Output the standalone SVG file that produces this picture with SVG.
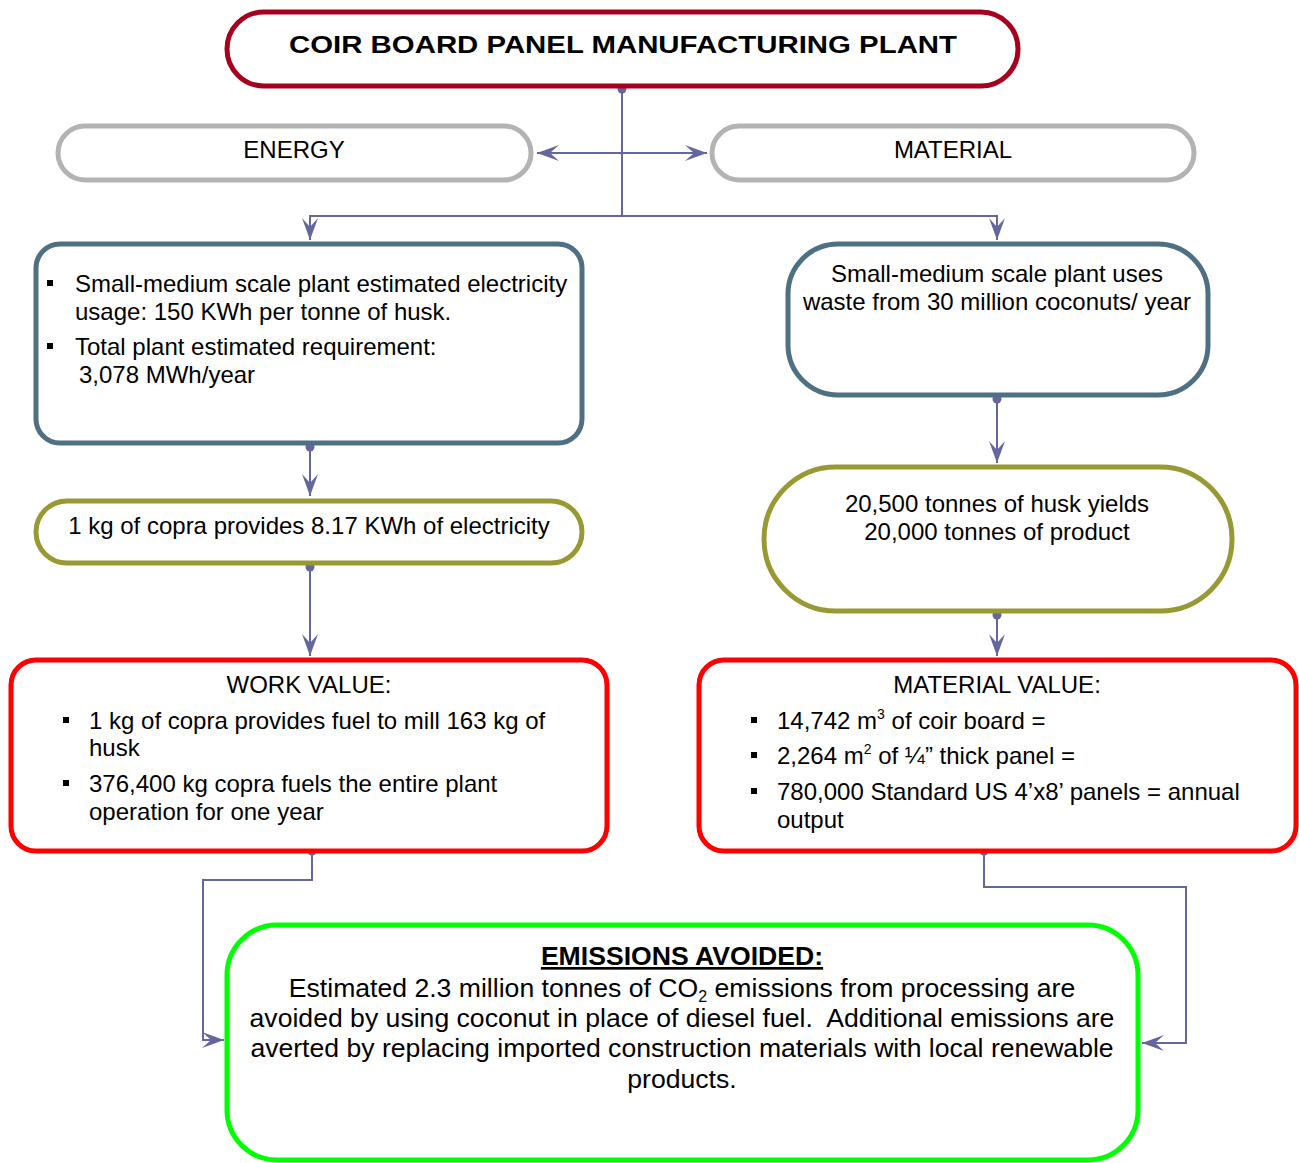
<svg xmlns="http://www.w3.org/2000/svg" width="1299" height="1163" viewBox="0 0 1299 1163">
  <style>
    .box { fill: #ffffff; stroke-width: 5; }
    .title { stroke: #A6001F; }
    .cat { stroke: #B3B3B3; }
    .slate { stroke: #4F7083; }
    .olive { stroke: #999933; }
    .red { stroke: #FF0000; }
    .green { stroke: #00FF00; }
    text { font-family: "Liberation Sans", Arial, sans-serif; fill: #000000; font-size: 24px; }
    .c { text-anchor: middle; }
    .big { font-size: 26.6px; }
    .b { font-weight: bold; }
    .sq { fill: #000000; }
    .wire { fill: none; stroke: #66669E; stroke-width: 2; }
    .dot { fill: #66669E; }
  </style>
  <defs>
    <marker id="arr" markerUnits="userSpaceOnUse" markerWidth="24" markerHeight="18" refX="22" refY="9" orient="auto-start-reverse" viewBox="0 0 24 18">
      <path d="M22,9 L0,1 L9,9 L0,17 Z" fill="#66669E"/>
    </marker>
  </defs>

  <!-- connectors -->
  <g id="connectors">
    <path class="wire" d="M622,90 V216"/>
    <path class="wire" d="M537,153 H707" marker-start="url(#arr)" marker-end="url(#arr)"/>
    <path class="wire" d="M622,216 H310 V240" marker-end="url(#arr)"/>
    <path class="wire" d="M622,216 H997 V240" marker-end="url(#arr)"/>
    <path class="wire" d="M310,447 V496" marker-end="url(#arr)"/>
    <path class="wire" d="M310,567 V656" marker-end="url(#arr)"/>
    <path class="wire" d="M997,399 V463" marker-end="url(#arr)"/>
    <path class="wire" d="M997,615 V656" marker-end="url(#arr)"/>
    <path class="wire" d="M312,851 V880 H203 V1040 H224" marker-end="url(#arr)"/>
    <path class="wire" d="M984,851 V887 H1186 V1043 H1142" marker-end="url(#arr)"/>
    <circle class="dot" cx="622" cy="89" r="4.5"/>
    <circle class="dot" cx="310" cy="447" r="4.5"/>
    <circle class="dot" cx="310" cy="567" r="4.5"/>
    <circle class="dot" cx="997" cy="399" r="4.5"/>
    <circle class="dot" cx="997" cy="615" r="4.5"/>
    <circle class="dot" cx="312" cy="851" r="4.5"/>
    <circle class="dot" cx="984" cy="851" r="4.5"/>
  </g>

  <!-- plant title -->
  <g id="plant">
    <rect class="box title" x="227" y="12" width="791" height="74" rx="37"/>
    <text class="c b" x="623" y="53" font-size="30.5" textLength="668" lengthAdjust="spacingAndGlyphs">COIR BOARD PANEL MANUFACTURING PLANT</text>
  </g>

  <g id="energy">
    <rect class="box cat" x="58" y="126" width="473" height="54" rx="27"/>
    <text class="c" x="294" y="158">ENERGY</text>
  </g>

  <g id="material">
    <rect class="box cat" x="712" y="126" width="482" height="54" rx="27"/>
    <text class="c" x="953" y="158">MATERIAL</text>
  </g>

  <g id="electricity-usage">
    <rect class="box slate" x="36" y="244" width="546" height="199" rx="24"/>
    <rect class="sq" x="47" y="280" width="6" height="6"/>
    <text x="75" y="292">Small-medium scale plant estimated electricity</text>
    <text x="75" y="320">usage: 150 KWh per tonne of husk.</text>
    <rect class="sq" x="47" y="343" width="6" height="6"/>
    <text x="75" y="355">Total plant estimated requirement:</text>
    <text x="79" y="383">3,078 MWh/year</text>
  </g>

  <g id="coconut-supply">
    <rect class="box slate" x="788" y="244" width="420" height="151" rx="50"/>
    <text class="c" x="997" y="282">Small-medium scale plant uses</text>
    <text class="c" x="997" y="310">waste from 30 million coconuts/ year</text>
  </g>

  <g id="copra-energy">
    <rect class="box olive" x="36" y="501" width="546" height="62" rx="31"/>
    <text class="c" x="309" y="534">1 kg of copra provides 8.17 KWh of electricity</text>
  </g>

  <g id="husk-yield">
    <rect class="box olive" x="764" y="467" width="468" height="144" rx="72"/>
    <text class="c" x="997" y="512">20,500 tonnes of husk yields</text>
    <text class="c" x="997" y="540">20,000 tonnes of product</text>
  </g>

  <g id="work-value">
    <rect class="box red" x="11" y="660" width="596" height="191" rx="25"/>
    <text class="c" x="309" y="693">WORK VALUE:</text>
    <rect class="sq" x="63" y="717" width="6" height="6"/>
    <text x="89" y="729">1 kg of copra provides fuel to mill 163 kg of</text>
    <text x="89" y="756">husk</text>
    <rect class="sq" x="63" y="780" width="6" height="6"/>
    <text x="89" y="792">376,400 kg copra fuels the entire plant</text>
    <text x="89" y="820">operation for one year</text>
  </g>

  <g id="material-value">
    <rect class="box red" x="699" y="660" width="597" height="191" rx="25"/>
    <text class="c" x="997" y="693">MATERIAL VALUE:</text>
    <rect class="sq" x="751" y="717" width="6" height="6"/>
    <text x="777" y="729">14,742 m<tspan font-size="14" dy="-10">3</tspan><tspan dy="10"> of coir board =</tspan></text>
    <rect class="sq" x="751" y="752" width="6" height="6"/>
    <text x="777" y="764">2,264 m<tspan font-size="14" dy="-10">2</tspan><tspan dy="10"> of ¼” thick panel =</tspan></text>
    <rect class="sq" x="751" y="788" width="6" height="6"/>
    <text x="777" y="800">780,000 Standard US 4’x8’ panels = annual</text>
    <text x="777" y="828">output</text>
  </g>

  <g id="emissions-avoided">
    <rect class="box green" x="227" y="925" width="911" height="235" rx="50"/>
    <text class="c b big" x="682" y="965" text-decoration="underline">EMISSIONS AVOIDED:</text>
    <text class="c big" x="682" y="997">Estimated 2.3 million tonnes of CO<tspan font-size="16" dy="5">2</tspan><tspan dy="-5"> emissions from processing are</tspan></text>
    <text class="c big" x="682" y="1027">avoided by using coconut in place of diesel fuel.&#160; Additional emissions are</text>
    <text class="c big" x="682" y="1057">averted by replacing imported construction materials with local renewable</text>
    <text class="c big" x="682" y="1088">products.</text>
  </g>
</svg>
